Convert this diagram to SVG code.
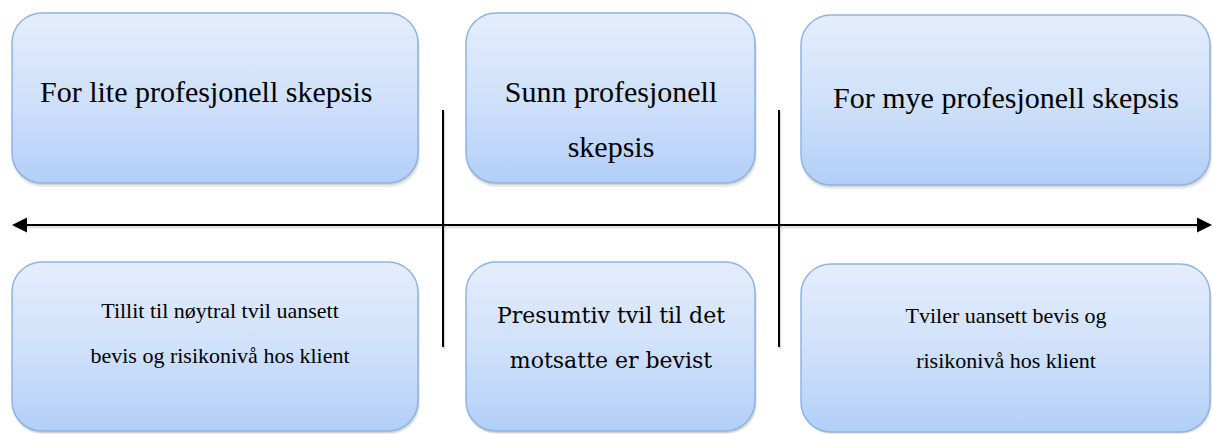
<svg xmlns="http://www.w3.org/2000/svg" width="1213" height="434" viewBox="0 0 1213 434">
<style>
.box{fill:url(#g);stroke:#8eb4e3;stroke-width:1.5}
.sd{fill:#000;stroke:none}
.ln{stroke:#000;stroke-width:2;fill:none}
.lns{stroke:#000;stroke-opacity:0.12;stroke-width:3;fill:none}
</style>
<defs>
<linearGradient id="g" x1="0" y1="0" x2="0" y2="1">
<stop offset="0" stop-color="#e4edfc"/>
<stop offset="0.5" stop-color="#d0e1fa"/>
<stop offset="1" stop-color="#b2cff7"/>
</linearGradient>
</defs>
<g id="connectors">
<line class="lns" x1="15" y1="227" x2="1199" y2="227"/>
<line class="lns" x1="444" y1="112" x2="444" y2="349"/>
<line class="lns" x1="780" y1="112" x2="780" y2="349"/>
<line class="ln" x1="14" y1="225" x2="1198" y2="225"/>
<path d="M1212,225 L1197,217.5 L1197,232.5 z" fill="#000"/>
<path d="M12,225 L27,217.5 L27,232.5 z" fill="#000"/>
<line class="ln" x1="443" y1="110" x2="443" y2="347"/>
<line class="ln" x1="779" y1="110" x2="779" y2="347"/>
</g>
<g id="n1">
<rect class="sd" x="12" y="17" width="408" height="170" rx="30" opacity="0.08"/>
<rect class="sd" x="12" y="15" width="407" height="170" rx="30" opacity="0.1"/>
<rect class="box" x="12" y="13" width="406" height="170" rx="30"/>
<text x="40" y="102" font-family="Liberation Serif" font-size="30" fill="#000">For lite profesjonell skepsis</text>
</g>
<g id="n2">
<rect class="sd" x="466" y="17" width="291" height="170" rx="30" opacity="0.08"/>
<rect class="sd" x="466" y="15" width="290" height="170" rx="30" opacity="0.1"/>
<rect class="box" x="466" y="13" width="289" height="170" rx="30"/>
<text x="611" y="102" text-anchor="middle" font-family="Times New Roman" font-size="30" fill="#000">Sunn profesjonell</text>
<text x="611" y="157" text-anchor="middle" font-family="Times New Roman" font-size="30" fill="#000">skepsis</text>
</g>
<g id="n3">
<rect class="sd" x="801" y="19" width="411" height="170" rx="30" opacity="0.08"/>
<rect class="sd" x="801" y="17" width="410" height="170" rx="30" opacity="0.1"/>
<rect class="box" x="801" y="15" width="409" height="170" rx="30"/>
<text x="1006" y="108" text-anchor="middle" font-family="Tinos" font-size="30" fill="#000">For mye profesjonell skepsis</text>
</g>
<g id="n4">
<rect class="sd" x="12" y="266" width="408" height="168" rx="30" opacity="0.08"/>
<rect class="sd" x="12" y="264" width="407" height="169" rx="30" opacity="0.1"/>
<rect class="box" x="12" y="262" width="406" height="169" rx="30"/>
<text x="220" y="318" text-anchor="middle" font-family="serif" font-size="22" fill="#000">Tillit til nøytral tvil uansett</text>
<text x="220" y="363" text-anchor="middle" font-family="serif" font-size="22" fill="#000">bevis og risikonivå hos klient</text>
</g>
<g id="n5">
<rect class="sd" x="466" y="266" width="291" height="168" rx="30" opacity="0.08"/>
<rect class="sd" x="466" y="264" width="290" height="169" rx="30" opacity="0.1"/>
<rect class="box" x="466" y="262" width="289" height="169" rx="30"/>
<text x="611" y="323" text-anchor="middle" font-family="DejaVu Serif" font-size="22" fill="#000">Presumtiv tvil til det</text>
<text x="611" y="368" text-anchor="middle" font-family="DejaVu Serif" font-size="22" fill="#000">motsatte er bevist</text>
</g>
<g id="n6">
<rect class="sd" x="801" y="268" width="411" height="166" rx="30" opacity="0.08"/>
<rect class="sd" x="801" y="266" width="410" height="167" rx="30" opacity="0.1"/>
<rect class="box" x="801" y="264" width="409" height="168" rx="30"/>
<text x="1006" y="323" text-anchor="middle" font-family="Liberation Serif" font-size="22" fill="#000">Tviler uansett bevis og</text>
<text x="1006" y="368" text-anchor="middle" font-family="Liberation Serif" font-size="22" fill="#000">risikonivå hos klient</text>
</g>
</svg>
